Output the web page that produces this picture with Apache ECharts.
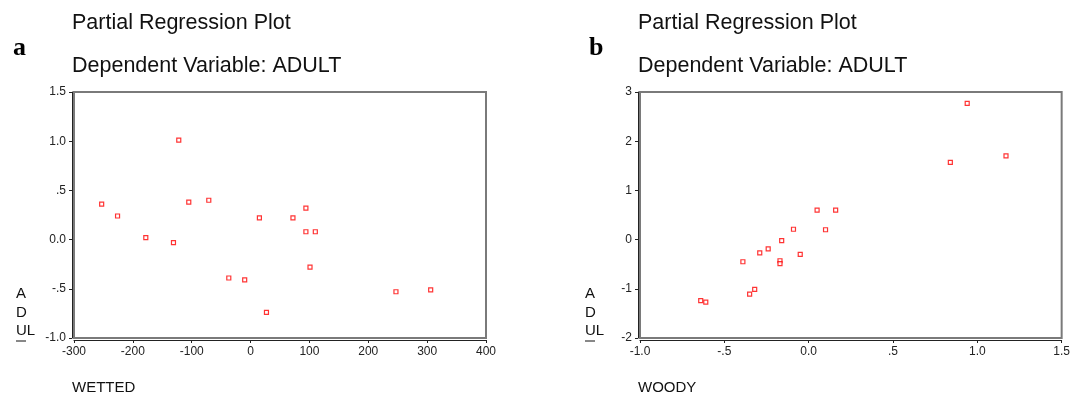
<!DOCTYPE html>
<html>
<head>
<meta charset="utf-8">
<script src="https://cdn.jsdelivr.net/npm/echarts@6/dist/echarts.min.js"></script>
<style>
  html, body { margin: 0; padding: 0; background: #fff; }
  #main { width: 1073px; height: 396px; }
</style>
</head>
<body>
<div id="main"></div>
<script>
// panel a: WETTED vs ADULT (partial residuals)
var wettedX = [-253, -226, -178, -122, -131, -105, -71, -37, -10, 15, 27, 72, 94, 94, 110, 101, 247, 306];
var wettedY = [0.36, 0.24, 0.02, 1.01, -0.03, 0.38, 0.40, -0.39, -0.41, 0.22, -0.74, 0.22, 0.32, 0.08, 0.08, -0.28, -0.53, -0.51];

// panel b: WOODY vs ADULT
var woodyX = [-0.64, -0.61, -0.39, -0.35, -0.32, -0.29, -0.24, -0.17, -0.17, -0.16, -0.09, -0.05, 0.05, 0.10, 0.16, 0.84, 0.94, 1.17];
var woodyY = [-1.24, -1.27, -0.45, -1.11, -1.01, -0.27, -0.19, -0.43, -0.49, -0.02, 0.21, -0.30, 0.60, 0.20, 0.60, 1.57, 2.77, 1.70];

var panelLetters = ['a', 'b'];
var titleLine1 = 'Partial Regression Plot';
var titleLine2 = 'Dependent Variable: ADULT';
var xNames = ['WETTED', 'WOODY'];
var yName = 'A\nD\nUL';

var chart = echarts.init(document.getElementById('main'), null, { renderer: 'canvas' });

// SPSS style decimals: .5, -.5, 0.0, 1.0
function spssDec(v) {
  if (v === 0) return '0.0';
  var s = v.toFixed(1);
  if (Math.abs(v) < 1) s = s.replace('0.', '.');
  return s;
}

function zip(xs, ys) {
  var out = [];
  for (var i = 0; i < xs.length; i++) out.push([xs[i], ys[i]]);
  return out;
}

var font = 'Liberation Sans, Arial, sans-serif';
var axisCommon = {
  axisLine: { show: true, onZero: false, lineStyle: { color: '#222', width: 1 } },
  axisTick: { show: true, inside: false, length: 3, lineStyle: { color: '#222' } },
  splitLine: { show: false },
  axisLabel: { color: '#222', fontSize: 12, fontFamily: font }
};

function xAx(grid, min, max, interval, fmt) {
  return Object.assign({}, axisCommon, {
    type: 'value', gridIndex: grid, min: min, max: max, interval: interval,
    offset: 2,
    axisLabel: Object.assign({}, axisCommon.axisLabel, { formatter: fmt, margin: 6, showMinLabel: true, showMaxLabel: true })
  });
}
function yAx(grid, min, max, interval, fmt) {
  return Object.assign({}, axisCommon, {
    type: 'value', gridIndex: grid, min: min, max: max, interval: interval,
    offset: 2,
    axisLabel: Object.assign({}, axisCommon.axisLabel, { formatter: fmt, margin: 6 })
  });
}

var pointStyle = {
  type: 'scatter',
  symbol: 'rect',
  symbolSize: 4,
  itemStyle: { color: '#fff', borderColor: '#ff0000', borderWidth: 1.2 }
};

var titleText = { fontFamily: font, fontWeight: 'normal', fontSize: 21.5, color: '#111' };
var letterText = { fontFamily: 'Liberation Serif, serif', fontWeight: 'bold', fontSize: 26, color: '#000' };

var option = {
  backgroundColor: '#fff',
  animation: false,
  title: [
    { text: titleLine1, left: 72, top: 12, padding: 0, textStyle: titleText },
    { text: titleLine2, left: 72, top: 55, padding: 0, textStyle: titleText },
    { text: titleLine1, left: 638, top: 12, padding: 0, textStyle: titleText },
    { text: titleLine2, left: 638, top: 55, padding: 0, textStyle: titleText },
    { text: panelLetters[0], left: 8, top: 30, textStyle: letterText },
    { text: panelLetters[1], left: 584, top: 30, textStyle: letterText }
  ],
  grid: [
    { left: 74, top: 92, width: 412, height: 246, show: true, borderColor: '#7a7a7a', borderWidth: 2, backgroundColor: '#fff' },
    { left: 640, top: 92, width: 423, height: 246, show: true, borderColor: '#7a7a7a', borderWidth: 2, backgroundColor: '#fff' }
  ],
  xAxis: [
    xAx(0, -300, 400, 100, function (v) { return String(v); }),
    xAx(1, -1, 1.5, 0.5, spssDec)
  ],
  yAxis: [
    yAx(0, -1, 1.5, 0.5, spssDec),
    yAx(1, -2, 3, 1, function (v) { return String(v); })
  ],
  series: [
    Object.assign({}, pointStyle, { xAxisIndex: 0, yAxisIndex: 0, data: zip(wettedX, wettedY) }),
    Object.assign({}, pointStyle, { xAxisIndex: 1, yAxisIndex: 1, data: zip(woodyX, woodyY) })
  ],
  graphic: [
    { type: 'text', left: 16, top: 285, style: { text: yName, font: '15px Liberation Sans, Arial, sans-serif', fill: '#111', lineHeight: 18.5 } },
    { type: 'line', shape: { x1: 16, y1: 341, x2: 26, y2: 341 }, style: { stroke: '#111', lineWidth: 1 } },
    { type: 'text', left: 585, top: 285, style: { text: yName, font: '15px Liberation Sans, Arial, sans-serif', fill: '#111', lineHeight: 18.5 } },
    { type: 'line', shape: { x1: 585, y1: 341, x2: 595, y2: 341 }, style: { stroke: '#111', lineWidth: 1 } },
    { type: 'text', left: 72, top: 380, style: { text: xNames[0], font: '15px Liberation Sans, Arial, sans-serif', fill: '#111' } },
    { type: 'text', left: 638, top: 380, style: { text: xNames[1], font: '15px Liberation Sans, Arial, sans-serif', fill: '#111' } }
  ]
};

chart.setOption(option);
</script>
</body>
</html>
